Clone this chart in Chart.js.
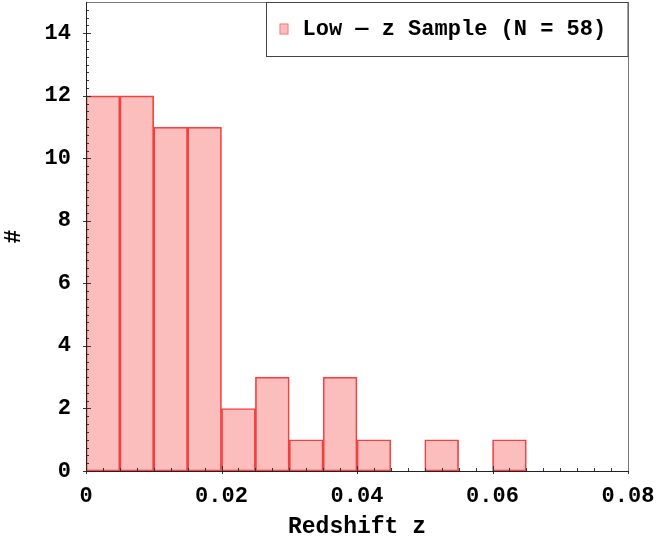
<!DOCTYPE html>
<html>
<head>
<meta charset="utf-8">
<script src="https://cdn.jsdelivr.net/npm/chart.js@4/dist/chart.umd.min.js"></script>
<style>
  html,body{margin:0;padding:0;background:#fff;}
  #wrap{width:658px;height:545px;position:relative;}
</style>
</head>
<body>
<div id="wrap"><canvas id="c" width="658" height="545"></canvas></div>
<script>
// ---- data ----
const binStarts = [0, 0.005, 0.01, 0.015, 0.02, 0.025, 0.03, 0.035, 0.04, 0.045, 0.05, 0.055, 0.06];
const counts    = [12, 12, 11, 11, 2, 3, 1, 3, 1, 0, 1, 0, 1];
const binWidth  = 0.005;
const xTicks      = [0, 0.02, 0.04, 0.06, 0.08];
const xTickLabels = ['0', '0.02', '0.04', '0.06', '0.08'];
const yTicks      = [0, 2, 4, 6, 8, 10, 12, 14];
const yTickLabels = ['0', '2', '4', '6', '8', '10', '12', '14'];
const seriesLabel = 'Low \u2014 z Sample (N = 58)';
const xTitle = 'Redshift z';
const yTitle = '#';
const xRange = [0, 0.08];
const yRange = [0, 15];
const xMinorStep = 0.0025;
const yMinorStep = 0.25;

const FILL = 'rgba(245,0,0,0.26)';
const EDGE = 'rgba(238,30,30,0.8)';
const FONT = '"Liberation Mono", "DejaVu Sans Mono", monospace';

const points = binStarts.map((s, i) => ({ x: s + binWidth / 2, y: counts[i] > 0 ? counts[i] : null }));

const frameTicks = {
  id: 'frameTicks',
  afterDraw(chart) {
    const { ctx, chartArea: a, scales: { x, y } } = chart;
    ctx.save();
    ctx.lineWidth = 1;
    ctx.strokeStyle = '#333';
    ctx.beginPath();
    for (let k = 0; xRange[0] + k * xMinorStep <= xRange[1] + 1e-9; k++) {
      const v = xRange[0] + k * xMinorStep;
      const px = Math.round(x.getPixelForValue(v)) + 0.5;
      const major = xTicks.some(t => Math.abs(t - v) < 1e-9);
      ctx.moveTo(px, a.bottom + (major ? 3 : 0));
      ctx.lineTo(px, a.bottom - (major ? 5 : 3));
    }
    for (let k = 0; yRange[0] + k * yMinorStep <= yRange[1] + 1e-9; k++) {
      const v = yRange[0] + k * yMinorStep;
      const py = Math.round(y.getPixelForValue(v)) + 0.5;
      const major = yTicks.some(t => Math.abs(t - v) < 1e-9);
      ctx.moveTo(a.left - (major ? 3 : 0), py);
      ctx.lineTo(a.left + (major ? 5 : 3), py);
    }
    ctx.stroke();
    // frame
    ctx.strokeStyle = '#777';
    ctx.beginPath();
    ctx.moveTo(a.left, a.top + 0.5); ctx.lineTo(a.right + 0.5, a.top + 0.5);
    ctx.lineTo(a.right + 0.5, a.bottom);
    ctx.stroke();
    ctx.strokeStyle = '#222';
    ctx.beginPath();
    ctx.moveTo(a.left + 0.5, a.top); ctx.lineTo(a.left + 0.5, a.bottom + 0.5);
    ctx.lineTo(a.right + 1, a.bottom + 0.5);
    ctx.stroke();
    // legend box
    ctx.font = 'bold 22px ' + FONT;
    const tw = ctx.measureText(seriesLabel).width;
    const w = 36 + tw + 22, h = 54;
    const L = Math.round(a.right - w) + 0.5, T = a.top + 0.5;
    ctx.fillStyle = '#fff';
    ctx.fillRect(L, T, w, h);
    ctx.strokeStyle = '#444';
    ctx.strokeRect(L, T, a.right - L, h);
    ctx.fillStyle = FILL;
    ctx.fillRect(L + 13, T + 21, 9, 11);
    ctx.strokeStyle = 'rgba(245,60,60,0.5)';
    ctx.strokeRect(L + 13.5, T + 21.5, 8, 10);
    ctx.fillStyle = '#000';
    ctx.textBaseline = 'middle';
    ctx.textAlign = 'left';
    ctx.fillText(seriesLabel, L + 36, T + 27);
    ctx.restore();
  }
};

new Chart(document.getElementById('c'), {
  type: 'bar',
  data: {
    datasets: [{
      label: seriesLabel,
      data: points,
      backgroundColor: FILL,
      borderColor: EDGE,
      borderWidth: 1,
      borderSkipped: false,
      barPercentage: 1,
      categoryPercentage: 1
    }]
  },
  options: {
    responsive: false,
    animation: false,
    layout: { padding: { top: 2, right: 30, left: 0, bottom: 0 } },
    plugins: { legend: { display: false }, tooltip: { enabled: false } },
    scales: {
      x: {
        type: 'linear',
        min: xRange[0], max: xRange[1],
        offset: false,
        grid: { display: false, drawTicks: false, offset: false },
        border: { display: false },
        afterBuildTicks: s => { s.ticks = xTicks.map(v => ({ value: v })); },
        afterFit: s => { s.height = 74; s.paddingLeft = 0; s.paddingRight = 0; },
        ticks: {
          padding: 12,
          color: '#000',
          font: { family: FONT, size: 22, weight: 'bold' },
          maxRotation: 0,
          callback: (v) => { const i = xTicks.findIndex(t => Math.abs(t - v) < 1e-9); return i >= 0 ? xTickLabels[i] : ''; }
        },
        title: {
          display: true, text: xTitle, color: '#000',
          font: { family: FONT, size: 23, weight: 'bold' },
          padding: { top: 0, bottom: 4 }
        }
      },
      y: {
        min: yRange[0], max: yRange[1],
        grid: { display: false, drawTicks: false },
        border: { display: false },
        afterBuildTicks: s => { s.ticks = yTicks.map(v => ({ value: v })); },
        afterFit: s => { s.width = 86; s.paddingTop = 0; s.paddingBottom = 0; },
        ticks: {
          padding: 15,
          color: '#000',
          font: { family: FONT, size: 22, weight: 'bold' },
          callback: (v) => { const i = yTicks.findIndex(t => Math.abs(t - v) < 1e-9); return i >= 0 ? yTickLabels[i] : ''; }
        },
        title: {
          display: true, text: yTitle, color: '#000',
          font: { family: FONT, size: 23, weight: 'bold' },
          padding: { top: 0, bottom: 0 }
        }
      }
    }
  },
  plugins: [frameTicks]
});
</script>
</body>
</html>
